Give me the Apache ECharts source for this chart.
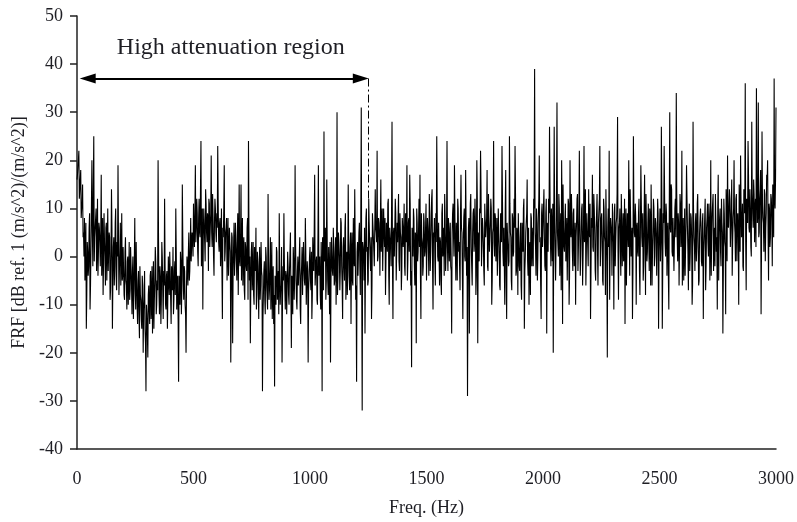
<!DOCTYPE html>
<html>
<head>
<meta charset="utf-8">
<script src="https://cdn.jsdelivr.net/npm/echarts@6/dist/echarts.min.js"></script>
<style>html,body{margin:0;padding:0;background:#fff;}#c{width:797px;height:522px;}</style>
</head>
<body>
<div id="c"></div>
<script>
// FRF trace sampled every 2 Hz: "even" samples at 0,4,8,... Hz and "odd" samples at 2,6,10,... Hz
const freqStep = 4;
const freqOffsetOdd = 2;
// FRF values (dB), per 500 Hz block — samples at 0,4,8,... Hz
const frf0000 = [16,19,22,14,18,10,15,5,8,2,-15,3,-4,6,-11,2,20,-2,25,4,8,-3,12,1,6,
  -2,17,3,-8,9,0,6,-5,10,-3,4,-7,14,-15,2,-6,7,-4,3,19,-8,1,-6,9,-4,
  -3,-9,4,-6,-1,-10,3,-7,-2,-12,0,-8,8,-11,-5,-14,-3,-17,-8,-13,-4,-20,-9,-15,-28,
  -12,-21,-6,-14,-3,-10,-16,-1,-9,2,-12,-5,20,-8,-2,-14,3,-7,-3,12,-10,-4,-15,0,-8,
  -3,-14,-6,2,-9,-1,10,-11,-4,-26,-7,1,-12,15,-5,-2,-10,-20,0,-6,5,-3,8,-1,4];
const frf0500 = [11,2,19,6,9,-2,12,4,24,7,-11,10,3,14,5,9,-3,11,6,21,2,8,-4,12,5,
  9,23,3,7,-2,10,-13,4,19,1,6,-5,8,0,3,-22,5,-18,2,-4,7,-1,4,-8,15,
  -2,15,3,-6,4,-9,2,-3,8,24,-5,-18,1,-7,3,-10,-2,6,-8,-1,-13,2,-6,-3,-28,
  -8,-1,-12,0,-6,13,-9,-2,-11,3,-5,-14,-27,-4,2,-9,-3,9,-10,-6,-22,-2,9,-7,-3,
  -12,1,-8,-3,5,-19,-5,2,-9,19,-4,-11,0,-6,4,-14,-2,-8,3,-5,8,-10,-1,-22,-4];
const frf1000 = [2,-7,-13,4,-3,17,-6,0,-10,19,-2,-8,3,-28,-4,26,1,-9,16,-5,2,-12,-22,4,-3,
  6,-6,1,-10,30,-4,3,-7,8,-2,-13,4,-5,9,-1,-8,15,-3,2,-14,5,-6,0,14,-9,
  -26,3,-4,7,-8,31,-32,2,-5,-16,8,1,-6,12,3,-3,-13,9,4,-2,14,5,22,0,7,
  -4,16,6,-3,10,2,-8,7,1,12,-10,4,-2,28,-13,6,0,9,-5,3,13,-3,5,-7,8,
  2,11,-4,6,19,-1,8,17,-6,-23,3,10,-2,5,-18,7,1,12,17,-13,4,-4,9,0,6];
const frf1500 = [-5,8,2,13,-3,6,14,-11,4,-1,9,25,0,7,-6,3,-8,11,2,-4,8,1,24,-3,6,
  3,-2,-16,9,4,19,1,7,-5,10,3,-7,17,5,-13,8,0,18,-4,-29,6,-16,11,2,-6,
  9,1,12,-8,20,-18,5,10,22,-2,8,3,-6,11,4,18,-3,7,1,12,-10,5,24,0,8,
  3,-4,10,2,-7,7,23,1,6,-10,18,-13,4,-2,25,5,-5,9,0,12,23,-4,6,-8,3,
  -3,7,-9,2,10,-15,0,5,16,-4,-10,3,9,-2,6,12,39,2,10,-5,8,21,4,-13,11];
const frf2000 = [6,14,-2,9,-16,5,12,27,3,10,-1,-20,27,8,2,32,5,13,-4,9,20,-14,6,1,11,
  3,-5,12,-10,20,4,8,-3,10,1,-10,7,13,2,22,-4,6,11,0,23,5,-6,9,2,14,
  4,-13,8,17,1,10,-3,6,13,-6,7,23,2,9,-5,12,4,-8,6,-21,10,22,1,8,-4,
  5,-11,11,3,8,29,-9,7,1,13,-2,9,4,-14,10,2,6,20,-4,8,3,-13,25,5,11,
  -10,7,0,12,-8,19,4,9,-2,17,-8,6,1,11,-3,8,15,-6,5,10,0,7,-4,12,-15];
const frf2500 = [6,-1,27,-15,9,23,3,11,-4,7,-11,30,5,14,0,8,-3,12,34,4,9,-6,13,2,22,
  3,-5,10,2,19,6,-7,11,1,8,-10,28,4,-3,9,2,13,-6,5,10,-1,7,-13,4,12,
  -2,8,3,11,-5,20,4,9,-3,6,13,1,-11,17,5,10,-2,7,-16,12,3,-12,9,21,6,
  14,2,10,-4,8,20,5,12,-1,9,-10,15,21,4,11,-3,13,36,-7,10,24,6,14,2,28,
  9,16,3,12,35,7,32,5,14,-12,26,8,1,13,6,17,20,-5,10,4,12,-2,9,37,10,31];
// FRF values (dB), per 500 Hz block — samples at 2,6,10,... Hz
const frfOdd0000 = [17,20,12,16,8,11,4,0,-5,7,-8,1,-2,9,-6,11,5,14,-1,6,10,2,-4,7,3,
  5,-4,8,-1,3,-6,7,2,-3,5,-9,1,6,-5,4,-2,10,-7,0,4,-3,7,-1,-5,2,
  -8,1,-5,-11,0,-4,-9,2,-6,-3,-13,-1,-7,3,-10,-5,-12,-2,-9,-15,-6,-11,-3,-18,-10,
  -16,-8,-11,-4,-13,-2,-9,-15,-5,-1,-10,-7,3,-12,-4,-9,0,-13,-6,-2,-11,-3,-8,-5,1,
  -9,-2,-7,-12,-3,-8,1,-6,-13,-4,-10,-1,-7,4,-9,-3,-12,-6,-2,1,-5,2,-1,5,0];
const frfOdd0500 = [6,9,3,12,1,8,5,14,-2,10,4,7,-1,11,3,8,12,2,9,5,13,0,7,10,3,
  6,11,1,8,3,-3,6,10,-1,5,8,2,-4,6,1,-8,4,-3,7,0,3,-5,9,2,-1,
  4,-5,8,1,-7,3,-2,6,-9,5,0,-6,3,-4,-8,2,-3,-11,1,-6,-2,-9,3,-4,-13,
  -3,-9,2,-6,-11,-1,-7,4,-5,-13,-2,-8,-4,-10,1,-6,-12,-3,-7,2,-9,-5,-1,-11,-4,
  -6,-2,-10,1,-7,-4,-12,-1,-5,3,-9,-3,-6,0,-11,-4,2,-8,-2,-6,1,-10,-3,-7,0];
const frfOdd1000 = [-5,1,-8,-2,5,-6,-1,-9,3,-4,0,-11,-3,4,-7,-1,6,-5,2,-8,-3,3,-6,0,-4,
  2,-5,4,-1,-8,5,0,-3,7,-6,2,-2,6,-9,1,-4,3,-7,5,0,-5,8,-2,3,-6,
  1,-4,5,-2,8,-7,3,0,6,-3,10,2,-5,7,0,4,-6,9,1,-2,6,3,-1,8,4,
  7,1,10,-3,5,8,-1,4,11,-4,6,2,9,-2,5,0,12,-5,7,3,-1,9,4,-3,6,
  5,-2,9,3,-5,7,1,11,-3,6,0,8,-6,4,10,-1,6,2,-4,9,3,-2,7,1,11];
const frfOdd1500 = [2,6,-4,9,1,12,-2,5,8,-6,3,10,-1,7,4,-5,9,0,6,13,-3,5,2,8,-1,
  7,-3,5,11,0,8,-5,4,12,1,-2,9,6,-4,3,10,-1,7,2,-6,8,4,13,-2,5,
  10,3,7,-4,12,5,-1,9,14,2,6,-3,11,4,8,-2,13,1,7,10,-5,6,3,9,-1,
  8,1,5,-6,9,3,12,-2,6,10,-4,7,2,-1,11,4,-7,8,1,6,13,-3,5,9,-2,
  4,-6,7,1,12,-3,5,9,-1,6,2,-8,8,3,-2,10,5,-4,7,0,12,3,-6,9,2];
const frfOdd2000 = [10,4,-3,12,7,1,9,14,-2,6,11,3,8,-5,13,5,0,10,4,-7,9,15,2,7,-1,
  8,2,11,-4,6,13,1,9,-2,7,4,12,-3,8,5,0,10,-6,7,3,14,1,9,-2,6,
  11,-3,6,2,13,5,-5,9,1,7,12,-2,8,4,-6,10,3,14,-1,6,2,-9,8,5,11,
  3,9,-2,7,13,1,6,10,-4,8,3,-1,12,5,-6,9,2,7,14,0,6,-3,10,4,8,
  6,1,9,-3,5,11,2,-5,8,4,13,-1,7,3,10,-6,6,1,12,-2,8,4,-4,9,1];
const frfOdd2500 = [10,3,13,-2,7,12,0,9,5,-4,11,6,15,1,8,-3,10,4,13,-1,7,2,11,5,-6,
  8,2,-4,7,12,1,5,-3,9,4,-6,10,2,7,-1,11,3,-5,8,6,-2,9,1,4,-7,
  6,11,0,8,3,-4,9,13,2,-2,7,4,10,-5,8,1,12,5,-3,9,2,14,-1,7,10,
  12,6,16,3,10,7,-1,13,8,4,15,1,11,6,-2,14,9,3,12,7,17,5,10,0,13,
  6,13,10,2,15,9,4,12,18,3,11,7,14,-1,9,16,5,11,2,13,8,15,4,12,16];
// Annotation
const regionLabel = 'High attenuation region';
const arrowEnds = [46, 1218];
const regionLevel = 37;
const boundaryFreq = 1252;
const boundaryBottom = 12;
const regionLabelPos = [660, 43.4];
const xTicks = {min: 0, max: 3000, interval: 500};
const yTicks = {min: -40, max: 50, interval: 10};

const frfEven = [].concat(frf0000, frf0500, frf1000, frf1500, frf2000, frf2500);
const frfOdd = [].concat(frfOdd0000, frfOdd0500, frfOdd1000, frfOdd1500, frfOdd2000, frfOdd2500);
const seriesData = [];
frfEven.forEach((v, i) => {
  seriesData.push([i * freqStep, v]);
  if (i < frfOdd.length) seriesData.push([i * freqStep + freqOffsetOdd, frfOdd[i]]);
});

const font = 'Liberation Serif, Times New Roman, serif';
const txt = '#1e1e24';
const chart = echarts.init(document.getElementById('c'), null, {renderer: 'canvas'});
chart.setOption({
  animation: false,
  backgroundColor: '#fff',
  grid: {left: 77, right: 17, top: 16, bottom: 69, containLabel: false},
  xAxis: {
    type: 'value', min: xTicks.min, max: xTicks.max, interval: xTicks.interval,
    name: 'Freq. (Hz)', nameLocation: 'middle', nameGap: 50,
    nameTextStyle: {fontFamily: font, fontSize: 18, color: txt},
    axisLine: {onZero: false, lineStyle: {color: '#222', width: 1.5}},
    axisTick: {show: false},
    splitLine: {show: false},
    axisLabel: {fontFamily: font, fontSize: 18, color: txt, margin: 21,
      formatter: v => String(v)}
  },
  yAxis: {
    type: 'value', min: yTicks.min, max: yTicks.max, interval: yTicks.interval,
    name: 'FRF [dB ref. 1 (m/s^2)/(m/s^2)]', nameLocation: 'middle', nameGap: 48,
    nameTextStyle: {fontFamily: font, fontSize: 18, color: txt},
    axisLine: {show: true, onZero: false, lineStyle: {color: '#222', width: 1.5}},
    axisTick: {show: true, length: 7, lineStyle: {color: '#222', width: 1.5}},
    splitLine: {show: false},
    axisLabel: {fontFamily: font, fontSize: 18, color: txt, margin: 14,
      formatter: v => String(v)}
  },
  series: [{
    type: 'line', data: seriesData, showSymbol: false, symbol: 'none', sampling: null,
    silent: true,
    lineStyle: {color: '#000', width: 1.1},
    markLine: {
      silent: true, animation: false,
      data: [
        [{coord: [arrowEnds[0], regionLevel], symbol: 'triangle', symbolSize: [10, 16]},
         {coord: [arrowEnds[1], regionLevel], symbol: 'triangle', symbolSize: [10, 16]}],
        [{coord: [boundaryFreq, regionLevel], symbol: 'none',
          lineStyle: {type: [8, 3, 2, 3], width: 1, color: '#000'}},
         {coord: [boundaryFreq, boundaryBottom], symbol: 'none'}]
      ],
      lineStyle: {color: '#000', width: 2, type: 'solid'},
      label: {show: false}
    },
    markPoint: {
      silent: true, animation: false,
      symbol: 'circle', symbolSize: 1, itemStyle: {color: 'rgba(0,0,0,0)'},
      data: [{coord: regionLabelPos, value: regionLabel}],
      label: {show: true, position: 'inside', formatter: regionLabel,
        fontFamily: font, fontSize: 24, color: txt}
    }
  }]
});
</script>
</body>
</html>
